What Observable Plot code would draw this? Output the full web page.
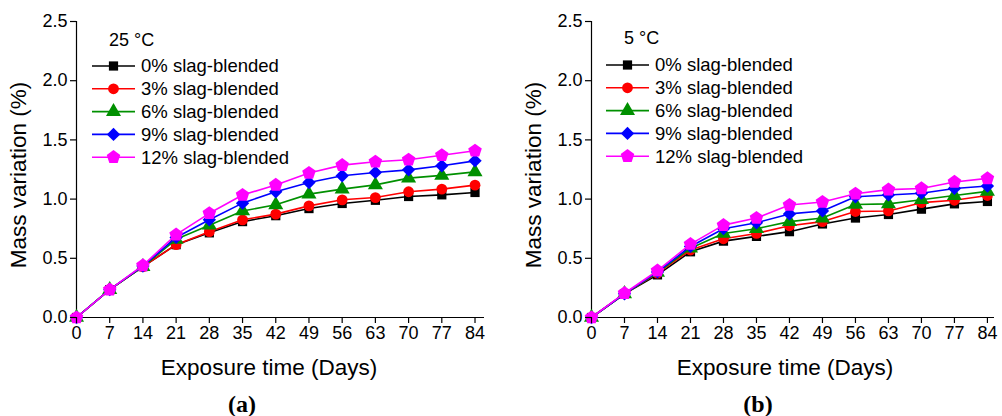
<!DOCTYPE html>
<html><head><meta charset="utf-8">
<script src="https://cdn.jsdelivr.net/npm/d3@7"></script>
<script src="https://cdn.jsdelivr.net/npm/@observablehq/plot@0.6"></script>
<style>
html,body{margin:0;padding:0;background:#fff;}
#wrap{position:relative;width:1002px;height:416px;font-family:"Liberation Sans",Arial,sans-serif;color:#000;overflow:hidden;}
.panel{position:absolute;top:0;}
.t{position:absolute;white-space:nowrap;font-size:22.5px;line-height:1;}
.ytitle{transform:translate(-50%,-50%) rotate(-90deg);}
.xtitle{transform:translate(-50%,-50%);}
.cap{position:absolute;transform:translate(-50%,-50%);font-family:"Liberation Serif","DejaVu Serif",serif;font-weight:bold;font-size:24px;white-space:nowrap;}
.leg{position:absolute;}
</style></head>
<body><div id="wrap"></div>
<script>
const days = [0, 7, 14, 21, 28, 35, 42, 49, 56, 63, 70, 77, 84];
const seriesNames = ["0% slag-blended", "3% slag-blended", "6% slag-blended", "9% slag-blended", "12% slag-blended"];
const seriesColors = ["#000000", "#ff0000", "#009000", "#0000ff", "#ff00ff"];
const yTicks = [0, 0.5, 1.0, 1.5, 2.0, 2.5];

// (a) 25 °C
const a0  = [0, 0.235, 0.43, 0.615, 0.715, 0.81, 0.86, 0.92, 0.963, 0.99, 1.022, 1.036, 1.056];
const a3  = [0, 0.235, 0.43, 0.615, 0.725, 0.825, 0.873, 0.943, 0.994, 1.013, 1.062, 1.084, 1.118];
const a6  = [0, 0.235, 0.43, 0.66, 0.78, 0.90, 0.952, 1.042, 1.084, 1.12, 1.177, 1.20, 1.23];
const a9  = [0, 0.235, 0.435, 0.676, 0.825, 0.966, 1.062, 1.14, 1.197, 1.225, 1.247, 1.281, 1.323];
const a12 = [0, 0.235, 0.44, 0.70, 0.88, 1.034, 1.12, 1.22, 1.287, 1.315, 1.332, 1.37, 1.408];
// (b) 5 °C
const b0  = [0, 0.20, 0.36, 0.555, 0.645, 0.685, 0.725, 0.79, 0.84, 0.87, 0.915, 0.96, 0.98];
const b3  = [0, 0.20, 0.375, 0.57, 0.665, 0.71, 0.775, 0.81, 0.895, 0.90, 0.97, 0.99, 1.03];
const b6  = [0, 0.20, 0.38, 0.585, 0.71, 0.75, 0.81, 0.84, 0.955, 0.96, 0.995, 1.03, 1.065];
const b9  = [0, 0.20, 0.385, 0.60, 0.75, 0.80, 0.875, 0.90, 1.02, 1.035, 1.05, 1.09, 1.11];
const b12 = [0, 0.205, 0.395, 0.62, 0.78, 0.84, 0.95, 0.975, 1.045, 1.08, 1.09, 1.145, 1.175];

const panels = [
  {temp: "25 °C", cap: "(a)", sets: [a0, a3, a6, a9, a12], left: 0, width: 501, ml: 76, mr: 17, xmax: 86,
   ytitle: [19, 175], xtitle: [269, 368], capPos: [242, 404], legTitle: [109, 40], leg: [92, 66]},
  {temp: "5 °C", cap: "(b)", sets: [b0, b3, b6, b9, b12], left: 501, width: 501, ml: 90, mr: 8, xmax: 85.5,
   ytitle: [534, 175], xtitle: [785, 368], capPos: [758, 404], legTitle: [624, 38], leg: [606, 65]}
];

const pentagon = {
  draw(context, size) {
    const R = Math.sqrt(size / 2.378) * 1.05;
    for (let i = 0; i < 5; i++) {
      const a = -Math.PI / 2 + i * 2 * Math.PI / 5;
      const x = R * Math.cos(a), y = R * Math.sin(a);
      if (i === 0) context.moveTo(x, y); else context.lineTo(x, y);
    }
    context.closePath();
  }
};
const symbols = ["square", "circle", "triangle", "diamond2", pentagon];
const radii = [5.2, 5.4, 5.6, 6.0, 5.9];
const d3Symbols = [d3.symbolSquare, d3.symbolCircle, d3.symbolTriangle, d3.symbolDiamond2, pentagon];

const wrap = document.getElementById("wrap");
const H = 416;

for (const p of panels) {
  const marks = [
    Plot.ruleX([0], {y1: 0, y2: 2.5, stroke: "#000", strokeWidth: 1.2}),
    Plot.ruleY([0], {stroke: "#000", strokeWidth: 1.2})
  ];
  p.sets.forEach((vals, i) => {
    const rows = days.map((d, j) => ({day: d, value: vals[j]}));
    marks.push(Plot.line(rows, {x: "day", y: "value", stroke: seriesColors[i], strokeWidth: 1.6}));
    marks.push(Plot.dot(rows, {x: "day", y: "value", symbol: () => symbols[i], r: radii[i], fill: seriesColors[i], stroke: "none"}));
  });
  marks.push(Plot.axisY({ticks: yTicks, tickFormat: d3.format(".1f"), tickSize: 6, tickPadding: 3, fontSize: 18, label: null, strokeWidth: 1.2}));
  marks.push(Plot.axisX({ticks: days, tickFormat: d => String(d), tickSize: 6, tickPadding: 3, fontSize: 18, label: null, strokeWidth: 1.2}));

  const chart = Plot.plot({
    width: p.width, height: H,
    marginLeft: p.ml, marginRight: p.mr, marginTop: 21, marginBottom: H - 317,
    x: {domain: [0, p.xmax], axis: null},
    y: {domain: [0, 2.5], axis: null},
    style: {fontFamily: "'Liberation Sans', Arial, sans-serif", color: "#000", background: "transparent", overflow: "visible"},
    marks
  });
  chart.classList.add("panel");
  chart.style.left = p.left + "px";
  wrap.appendChild(chart);

  const yt = document.createElement("div");
  yt.className = "t ytitle"; yt.textContent = "Mass variation (%)";
  yt.style.left = p.ytitle[0] + "px"; yt.style.top = p.ytitle[1] + "px";
  wrap.appendChild(yt);

  const xt = document.createElement("div");
  xt.className = "t xtitle"; xt.textContent = "Exposure time (Days)";
  xt.style.left = p.xtitle[0] + "px"; xt.style.top = p.xtitle[1] + "px";
  wrap.appendChild(xt);

  const cap = document.createElement("div");
  cap.className = "cap"; cap.textContent = p.cap;
  cap.style.left = p.capPos[0] + "px"; cap.style.top = p.capPos[1] + "px";
  wrap.appendChild(cap);

  // legend
  const lg = d3.select(wrap).append("svg").attr("class", "leg")
    .style("left", "0px").style("top", "0px").attr("width", 1002).attr("height", 200)
    .style("font-family", "'Liberation Sans', Arial, sans-serif");
  lg.append("text").attr("x", p.legTitle[0]).attr("y", p.legTitle[1]).attr("dy", "0.35em")
    .attr("font-size", 18).text(p.temp);
  seriesNames.forEach((name, i) => {
    const y = p.leg[1] + i * 22.8;
    const x0 = p.leg[0];
    lg.append("line").attr("x1", x0).attr("x2", x0 + 43).attr("y1", y).attr("y2", y)
      .attr("stroke", seriesColors[i]).attr("stroke-width", 1.6);
    const sz = Math.PI * radii[i] * radii[i];
    lg.append("path").attr("d", d3.symbol(d3Symbols[i], sz)()).attr("transform", `translate(${x0 + 21.5},${y})`)
      .attr("fill", seriesColors[i]);
    lg.append("text").attr("x", x0 + 49).attr("y", y).attr("dy", "0.35em").attr("font-size", 18.5).text(name);
  });
}
</script></body></html>
